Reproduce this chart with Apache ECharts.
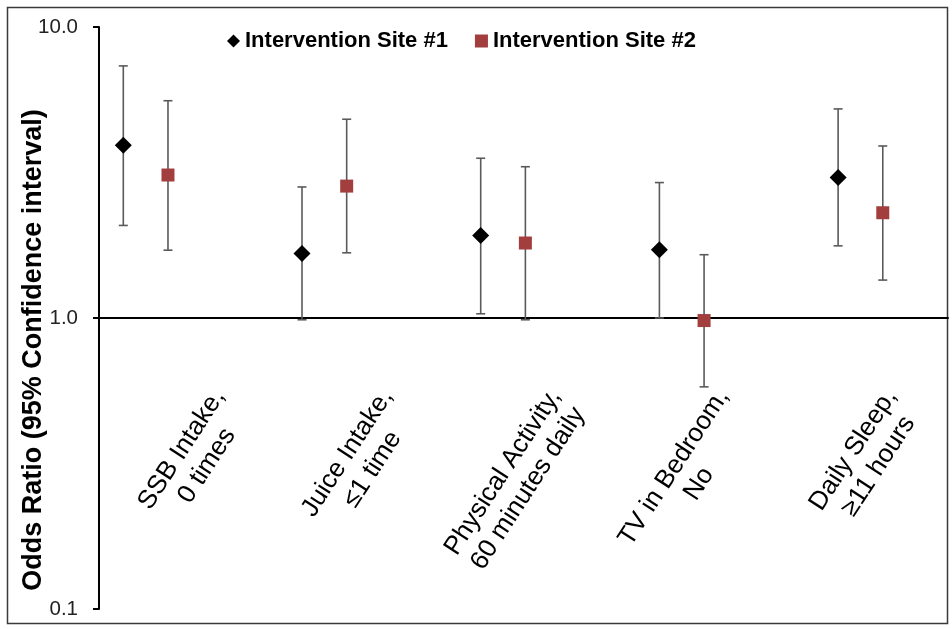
<!DOCTYPE html>
<html>
<head>
<meta charset="utf-8">
<script src="https://cdn.jsdelivr.net/npm/echarts@6/dist/echarts.min.js"></script>
<style>
  html, body { margin: 0; padding: 0; background: #fff; }
  #chart { width: 952px; height: 629px; }
</style>
</head>
<body>
<div id="chart"></div>
<script>
// ---- Data ----
var categories = [
  'SSB Intake,\n0 times',
  'Juice Intake,\n\u22641 time',
  'Physical Activity,\n60 minutes daily',
  'TV in Bedroom,\nNo',
  'Daily Sleep,\n\u226511 hours'
];
var seriesNames = ['Intervention Site #1', 'Intervention Site #2'];
var site1OR    = [3.92, 1.665, 1.92, 1.715, 3.04];
var site1Lower = [2.08, 0.986, 1.034, 1.00, 1.77];
var site1Upper = [7.35, 2.82, 3.54, 2.92, 5.23];
var site2OR    = [3.10, 2.84, 1.81, 0.98, 2.30];
var site2Lower = [1.71, 1.675, 0.986, 0.58, 1.35];
var site2Upper = [5.58, 4.82, 3.31, 1.65, 3.90];
var yTicks = [0.1, 1, 10];

// ---- Layout helpers ----
var FONT = '"Liberation Sans", Arial, sans-serif';
var SITE2_SHIFT = 0.25;
var gridLeft = 99, gridTop = 27, gridRight = 4, gridBottom = 20;
var gridHeight = 629 - gridTop - gridBottom;

function pts(vals, shift) {
  return vals.map(function (v, i) { return [i + shift, v]; });
}
function bars(lo, hi, shift) {
  return lo.map(function (v, i) { return [i + shift, v, hi[i]]; });
}
function errRender(params, api) {
  var x = api.value(0);
  var p1 = api.coord([x, api.value(2)]);
  var p2 = api.coord([x, api.value(1)]);
  var cap = 4.5;
  var st = { stroke: '#5a5a5a', lineWidth: 1.6 };
  return {
    type: 'group',
    children: [
      { type: 'line', shape: { x1: p1[0], y1: p1[1], x2: p2[0], y2: p2[1] }, style: st },
      { type: 'line', shape: { x1: p1[0] - cap, y1: p1[1], x2: p1[0] + cap, y2: p1[1] }, style: st },
      { type: 'line', shape: { x1: p2[0] - cap, y1: p2[1], x2: p2[0] + cap, y2: p2[1] }, style: st }
    ]
  };
}
function labelFmt(v) {
  var c = categories[Math.round(v)];
  if (c === undefined) return '';
  return c.split('\n').map(function (l) { return '{c|' + l + '}'; }).join('\n');
}

var chart = echarts.init(document.getElementById('chart'), null, { renderer: 'canvas' });
chart.setOption({
  animation: false,
  backgroundColor: '#fff',
  grid: { left: gridLeft, top: gridTop, right: gridRight, bottom: gridBottom, containLabel: false },
  legend: {
    data: seriesNames,
    left: 222,
    top: 25,
    itemWidth: 13,
    itemHeight: 13,
    itemGap: 27,
    textStyle: { fontSize: 22, fontWeight: 'bold', color: '#000', fontFamily: FONT }
  },
  xAxis: [
    {
      type: 'value',
      min: -0.136,
      max: 4.615,
      position: 'bottom',
      offset: -gridHeight / 2,
      axisLine: { show: true, onZero: false, lineStyle: { color: '#000', width: 2 } },
      axisTick: { show: false },
      axisLabel: { show: false },
      splitLine: { show: false }
    },
    {
      type: 'value',
      min: -0.79,
      max: 4.264,
      position: 'bottom',
      offset: -gridHeight / 2,
      axisLine: { show: false, onZero: false },
      axisTick: { show: false },
      splitLine: { show: false },
      axisLabel: {
        show: true,
        customValues: [0, 1, 2, 3, 4],
        formatter: labelFmt,
        rotate: 57,
        margin: 82,
        fontSize: 26,
        color: '#000',
        fontFamily: FONT,
        rich: { c: { align: 'center', fontSize: 26, lineHeight: 30, color: '#000', fontFamily: FONT } }
      }
    }
  ],
  yAxis: {
    type: 'log',
    logBase: 10,
    min: yTicks[0],
    max: yTicks[yTicks.length - 1],
    axisLine: { show: true, onZero: false, lineStyle: { color: '#000', width: 2 } },
    axisTick: { show: true, length: 6, lineStyle: { color: '#000', width: 2 } },
    splitLine: { show: false },
    minorTick: { show: false },
    axisLabel: {
      formatter: function (v) { return Number(v).toFixed(1); },
      fontSize: 20.5,
      color: '#222',
      fontFamily: FONT,
      margin: 21
    }
  },
  graphic: [
    {
      type: 'rect',
      shape: { x: 7.5, y: 7.5, width: 940, height: 616 },
      style: { fill: 'none', stroke: '#3a3a3a', lineWidth: 1.5 },
      silent: true,
      z: -1
    },
    {
      type: 'text',
      x: 34,
      y: 350,
      rotation: Math.PI / 2,
      style: {
        text: 'Odds Ratio (95% Confidence interval)',
        fontSize: 27,
        fontWeight: 'bold',
        fontFamily: FONT,
        fill: '#000',
        align: 'center',
        verticalAlign: 'middle'
      }
    }
  ],
  series: [
    {
      name: 'err1',
      type: 'custom',
      xAxisIndex: 0,
      renderItem: errRender,
      encode: { x: 0, y: [1, 2] },
      data: bars(site1Lower, site1Upper, 0),
      z: 1
    },
    {
      name: 'err2',
      type: 'custom',
      xAxisIndex: 0,
      renderItem: errRender,
      encode: { x: 0, y: [1, 2] },
      data: bars(site2Lower, site2Upper, SITE2_SHIFT),
      z: 1
    },
    {
      name: seriesNames[0],
      type: 'scatter',
      xAxisIndex: 0,
      symbol: 'diamond',
      symbolSize: 17,
      itemStyle: { color: '#000', opacity: 1 },
      data: pts(site1OR, 0),
      z: 3
    },
    {
      name: seriesNames[1],
      type: 'scatter',
      xAxisIndex: 0,
      symbol: 'rect',
      symbolSize: 13,
      itemStyle: { color: '#A23E3E', opacity: 1 },
      data: pts(site2OR, SITE2_SHIFT),
      z: 3
    }
  ]
});
</script>
</body>
</html>
